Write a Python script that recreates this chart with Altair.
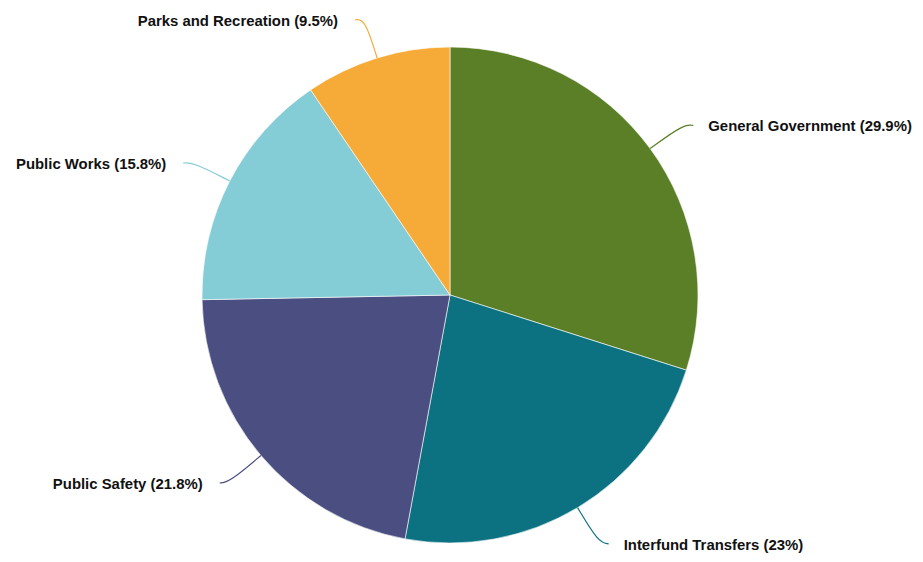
import altair as alt
import pandas as pd

categories = ["General Government", "Interfund Transfers", "Public Safety",
              "Public Works", "Parks and Recreation"]
shares = [29.9, 23, 21.8, 15.8, 9.5]
labels = ["General Government (29.9%)", "Interfund Transfers (23%)",
          "Public Safety (21.8%)", "Public Works (15.8%)",
          "Parks and Recreation (9.5%)"]
colors = ["#5a7f26", "#0c7281", "#4a4e80", "#84ccd6", "#f6ab39"]

df = pd.DataFrame({
    "category": categories,
    "share": shares,
    "label": labels,
    "idx": list(range(len(categories))),
})

W, H = 907, 546
CX, CY = 442, 287   # pie center inside plot area (pixels)
R = 248             # pie radius
R2 = 289            # leader elbow radius

xs = alt.Scale(domain=[-CX, W - CX], range=[0, W])
ys = alt.Scale(domain=[CY - H, CY], range=[H, 0])
cs = alt.Scale(domain=categories, range=colors)

base = alt.Chart(df)

pie = base.mark_arc(outerRadius=R, stroke="white", strokeWidth=0.6).encode(
    theta=alt.Theta("share:Q", stack=True),
    order=alt.Order("idx:Q"),
    color=alt.Color("category:N", scale=cs, legend=None),
    x=alt.value(CX),
    y=alt.value(CY),
)

angles = base.transform_window(
    cum="sum(share)", sort=[alt.SortField("idx")], frame=[None, 0]
).transform_joinaggregate(
    total="sum(share)"
).transform_calculate(
    mid="(datum.cum - datum.share/2) / datum.total * 2 * PI",
).transform_calculate(
    s="sin(datum.mid)", c="cos(datum.mid)",
).transform_calculate(
    side="datum.s >= 0 ? 1 : -1"
)

lines = angles.transform_calculate(
    steps="[0, 1, 2]"
).transform_flatten(["steps"]).transform_calculate(
    px=f"datum.steps == 0 ? datum.s*{R} : datum.s*{R2} + (datum.steps == 2 ? datum.side*10 : 0)",
    py=f"datum.steps == 0 ? datum.c*{R} : datum.c*{R2} - (datum.steps == 2 ? 1 : 0)",
).mark_line(interpolate="basis", strokeWidth=1.2).encode(
    x=alt.X("px:Q", scale=xs, axis=None),
    y=alt.Y("py:Q", scale=ys, axis=None),
    detail="category:N",
    order=alt.Order("steps:Q"),
    color=alt.Color("category:N", scale=cs, legend=None),
)

lbl = angles.transform_calculate(
    tx=f"datum.s*{R2} + datum.side*(datum.side > 0 ? 25 : 27)",
    ty=f"datum.c*{R2} - 3",
)

text_style = dict(baseline="middle", font="Liberation Sans", fontWeight="bold",
                  fontSize=14.9, color="#111111")

text_r = lbl.transform_filter("datum.side > 0").mark_text(
    align="left", **text_style
).encode(
    x=alt.X("tx:Q", scale=xs, axis=None),
    y=alt.Y("ty:Q", scale=ys, axis=None),
    text="label:N",
)

text_l = lbl.transform_filter("datum.side < 0").mark_text(
    align="right", **text_style
).encode(
    x=alt.X("tx:Q", scale=xs, axis=None),
    y=alt.Y("ty:Q", scale=ys, axis=None),
    text="label:N",
)

chart = alt.layer(pie, lines, text_r, text_l).properties(
    width=W, height=H,
    autosize=alt.AutoSizeParams(type="none"),
    padding=0,
).configure_view(stroke=None)

chart.save("out.html", embed_options={"renderer": "svg", "actions": False})
